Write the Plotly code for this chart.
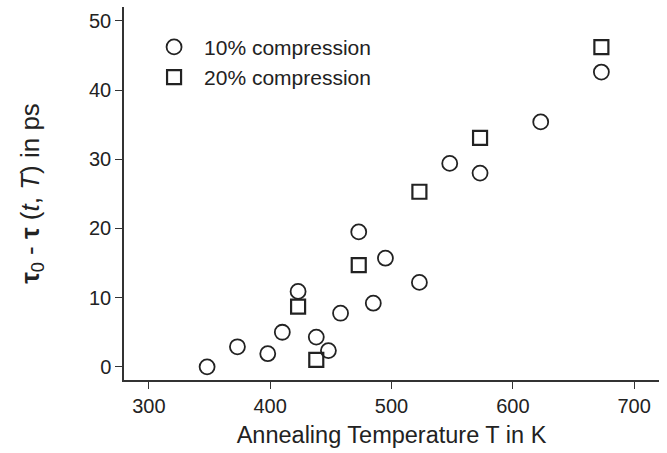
import plotly.graph_objects as go

# 10% compression
t10 = [348, 373, 398, 410, 423, 438, 448, 458, 473, 485, 495, 523, 548, 573, 623, 673]
v10 = [0.0, 2.9, 1.9, 5.0, 10.9, 4.3, 2.35, 7.75, 19.5, 9.2, 15.7, 12.2, 29.4, 28.0, 35.4, 42.6]

# 20% compression
t20 = [423, 438, 473, 523, 573, 673]
v20 = [8.7, 1.0, 14.7, 25.3, 33.1, 46.2]

x_ticks = [300, 400, 500, 600, 700]
y_ticks = [0, 10, 20, 30, 40, 50]

ink = "#222222"
font_family = "Liberation Sans, Arial, sans-serif"

fig = go.Figure()
fig.add_trace(go.Scatter(
    x=t10, y=v10, mode="markers", name="10% compression",
    marker=dict(symbol="circle-open", size=15, color=ink, line=dict(width=1.8, color=ink)),
))
fig.add_trace(go.Scatter(
    x=t20, y=v20, mode="markers", name="20% compression",
    marker=dict(symbol="square-open", size=14, color=ink, line=dict(width=2.2, color=ink)),
))

axis_common = dict(
    showline=True, linecolor="#333333", linewidth=1.5, mirror=False,
    showgrid=False, zeroline=False, ticks="outside", ticklen=7, tickwidth=1.3,
    tickcolor="#333333", tickfont=dict(size=20, color=ink, family=font_family),
)

fig.update_layout(
    width=667, height=453,
    margin=dict(l=124, r=8, t=7, b=73),
    paper_bgcolor="white", plot_bgcolor="white",
    font=dict(family=font_family, color=ink, size=20),
    showlegend=True,
    legend=dict(
        x=0.0375, y=0.947, xanchor="left", yanchor="top",
        bgcolor="rgba(0,0,0,0)", font=dict(size=21, color=ink, family=font_family),
        itemsizing="trace", tracegroupgap=0, itemwidth=50,
    ),
    xaxis=dict(
        range=[279.5, 720.5], tickvals=x_ticks,
        title=dict(text="Annealing Temperature T in K", font=dict(size=23.5, color=ink), standoff=11),
        **axis_common,
    ),
    yaxis=dict(
        range=[-1.9, 52], tickvals=y_ticks,
        title=dict(text="<b>τ</b><sub>0</sub> - <b>τ</b> (<i>t</i>, <i>T</i>) in ps",
                   font=dict(size=26, color=ink), standoff=42),
        **axis_common,
    ),
)

fig.write_html("out.html")
